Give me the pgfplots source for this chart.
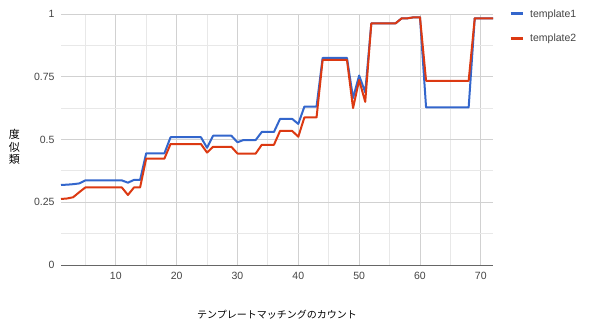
\documentclass[border=0pt]{standalone}
\usepackage{pgfplots}
\pgfplotsset{compat=1.18}
\usepackage{pgfplotstable}
\usepackage{fontspec}
\setmainfont{Liberation Sans}
\newfontfamily\cjk{Noto Sans CJK JP}
\definecolor{gblue}{HTML}{3366CC}
\definecolor{gred}{HTML}{DC3912}
\definecolor{ticktext}{HTML}{444444}
\pgfplotstableread{
x t1 t2
1 0.319 0.263
2 0.320 0.265
3 0.322 0.270
4 0.325 0.290
5 0.337 0.309
6 0.337 0.309
7 0.337 0.309
8 0.337 0.309
9 0.337 0.309
10 0.337 0.309
11 0.337 0.309
12 0.328 0.279
13 0.339 0.309
14 0.339 0.309
15 0.445 0.424
16 0.445 0.424
17 0.445 0.424
18 0.445 0.424
19 0.509 0.482
20 0.509 0.482
21 0.509 0.482
22 0.509 0.482
23 0.509 0.482
24 0.509 0.482
25 0.467 0.448
26 0.515 0.471
27 0.515 0.471
28 0.515 0.471
29 0.515 0.471
30 0.489 0.444
31 0.498 0.444
32 0.498 0.444
33 0.498 0.444
34 0.530 0.479
35 0.530 0.479
36 0.530 0.479
37 0.582 0.534
38 0.582 0.534
39 0.582 0.534
40 0.562 0.511
41 0.631 0.588
42 0.631 0.588
43 0.631 0.588
44 0.825 0.817
45 0.825 0.817
46 0.825 0.817
47 0.825 0.817
48 0.825 0.817
49 0.665 0.625
50 0.755 0.737
51 0.688 0.650
52 0.963 0.963
53 0.963 0.963
54 0.963 0.963
55 0.963 0.963
56 0.963 0.963
57 0.983 0.983
58 0.983 0.983
59 0.987 0.987
60 0.987 0.987
61 0.628 0.734
62 0.628 0.734
63 0.628 0.734
64 0.628 0.734
65 0.628 0.734
66 0.628 0.734
67 0.628 0.734
68 0.628 0.734
69 0.983 0.983
70 0.983 0.983
71 0.983 0.983
72 0.983 0.983
}\datatable
\begin{document}
\begin{tikzpicture}
\path[use as bounding box] (0,0) rectangle (593pt,329pt);
\begin{axis}[
  at={(61pt,64pt)}, anchor=south west,
  scale only axis, width=432pt, height=251pt,
  xmin=1, xmax=72, ymin=0, ymax=1,
  xtick={10,20,30,40,50,60,70},
  minor xtick={5,15,25,35,45,55,65},
  ytick={0.25,0.5,0.75,1},
  yticklabels={0.25,0.5,0.75,1},
  minor ytick={0.125,0.375,0.625,0.875},
  extra y ticks={0},
  extra y tick labels={0},
  extra y tick style={grid=major, major grid style={draw=black!60, line width=1pt}},
  grid=both,
  major grid style={draw=black!18, line width=0.8pt},
  minor grid style={draw=black!9, line width=0.8pt},
  axis line style={draw=none},
  major tick length=0pt, minor tick length=0pt,
  tick label style={font=\fontsize{10.5}{12}\selectfont, text=ticktext},
  /pgf/number format/assume math mode=true,
  xticklabel style={yshift=-4pt},
  yticklabel style={xshift=-3pt},
  xlabel={\cjk\fontsize{10}{12}\selectfont テンプレートマッチングのカウント},
  xlabel style={at={(axis description cs:0.5,0)}, anchor=north, yshift=-42pt},
  clip=false,
  legend style={at={(1.03,1.035)}, anchor=north west, draw=none, fill=none,
    font=\fontsize{10.5}{12}\selectfont, text=ticktext, row sep=11pt,
    /tikz/every even column/.append style={column sep=0pt}},
  legend cell align=left,
  legend image code/.code={\draw[#1, line width=3pt] (0pt,0pt) -- (12pt,0pt);},
  legend style={nodes={inner xsep=6pt}},
]
\addplot[gblue, line width=2pt, line join=round] table[x=x, y=t1]{\datatable};
\addlegendentry{template1}
\addplot[gred, line width=2pt, line join=round] table[x=x, y=t2]{\datatable};
\addlegendentry{template2}
\node[font=\cjk\fontsize{11}{12.5}\selectfont, align=center, inner sep=0pt, anchor=center]
  at (rel axis cs:-0.108,0.47) {度\\似\\類};
\end{axis}
\end{tikzpicture}
\end{document}
